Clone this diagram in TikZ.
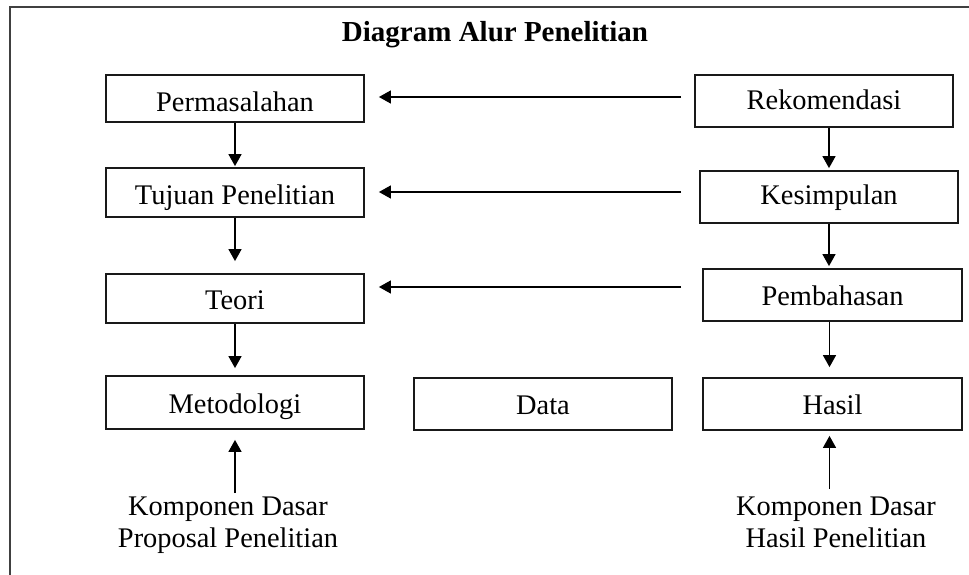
\documentclass[tikz,border=0pt]{standalone}
\usepackage{fontspec}
\setmainfont{Liberation Serif}
\usetikzlibrary{arrows.meta}
\begin{document}
\begin{tikzpicture}[x=1pt,y=-1pt,
  txt/.style={font=\fontsize{28.4}{32}\selectfont, inner sep=0pt},
  box/.style={draw=black!90, line width=1.8pt, inner sep=0pt, minimum width=258pt, text height=21pt, text depth=0pt, font=\fontsize{28.4}{32}\selectfont},
  arr/.style={line width=1.4pt, -{Triangle[length=12pt,width=13pt]}}]
\useasboundingbox (0,0) rectangle (969,575);
\clip (0,0) rectangle (969,575);
\draw[black!75, line width=2pt] (10,7) rectangle (1000,600);
\node[txt, font=\fontsize{29}{34}\selectfont\bfseries] (title) at (495,35) {Diagram Alur Penelitian};
% left column
\node[box, minimum height=47pt, text height=27pt] (perm) at (235,98.5) {Permasalahan};
\node[box, minimum height=49pt, text height=23pt] (tuj) at (235,192.5) {Tujuan Penelitian};
\node[box, minimum height=49pt] (teori) at (235,298.5) {Teori};
\node[box, minimum height=53pt] (met) at (235,402.5) {Metodologi};
% middle
\node[box, minimum height=52pt] (data) at (543,404) {Data};
% right column
\node[box, minimum height=52pt, text height=18pt] (rek) at (824,101) {Rekomendasi};
\node[box, minimum height=52pt, text height=15pt] (kes) at (829,197) {Kesimpulan};
\node[box, minimum height=52pt, minimum width=259pt, text height=20pt] (pem) at (832.5,295) {Pembahasan};
\node[box, minimum height=52pt, minimum width=259pt] (has) at (832.5,404) {Hasil};
% bottom labels
\node[txt, align=center, anchor=north] (k1) at (228,497) {Komponen Dasar\\Proposal Penelitian};
\node[txt, align=center, anchor=north] (k2) at (836,497) {Komponen Dasar\\Hasil Penelitian};
\coordinate (hb) at ([xshift=-3pt]has.south);
\coordinate (pb) at ([xshift=-3pt]pem.south);
\coordinate (ht) at ([xshift=-3pt]has.north);
% horizontal arrows
\coordinate (h1) at (681,97);
\coordinate (h2) at (681,192);
\coordinate (h3) at (681,287);
\draw[arr, shorten >=14pt] (h1) -- (h1 -| perm.east);
\draw[arr, shorten >=14pt] (h2) -- (h2 -| tuj.east);
\draw[arr, shorten >=14pt] (h3) -- (h3 -| teori.east);
% vertical arrows left
\draw[arr, shorten >=1pt] (perm.south) -- (tuj.north);
\draw[arr, shorten >=12pt] (tuj.south) -- (teori.north);
\draw[arr, shorten >=7pt] (teori.south) -- (met.north);
% vertical arrows right
\draw[arr, shorten >=2pt] (kes.north |- rek.south) -- (kes.north);
\draw[arr, shorten >=2pt] (kes.south) -- (kes.south |- pem.north);
\draw[arr, shorten >=10pt] (pb) -- (ht);
% upward arrows
\draw[arr, shorten <=4pt, shorten >=10pt] (k1.north -| met.south) -- (met.south);
\draw[arr, shorten <=8pt, shorten >=5pt] (k2.north -| hb) -- (hb);
\end{tikzpicture}
\end{document}
